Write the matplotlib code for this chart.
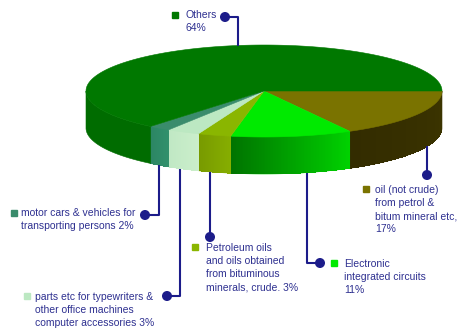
import numpy as np
import matplotlib.pyplot as plt
from matplotlib.patches import Polygon, Rectangle, Circle
from matplotlib.colors import to_rgb

# share of each product group, clockwise from 3 o'clock
labels = [
    "oil (not crude)\nfrom petrol &\nbitum mineral etc,\n17%",
    "Electronic\nintegrated circuits\n11%",
    "Petroleum oils\nand oils obtained\nfrom bituminous\nminerals, crude. 3%",
    "parts etc for typewriters &\nother office machines\ncomputer accessories 3%",
    "motor cars & vehicles for\ntransporting persons 2%",
    "Others\n64%",
]
shares = [17, 11, 3, 3, 2, 64]

top_colors = ["#7a7300", "#00ea00", "#8ab600", "#bce8c2", "#3a8c6c", "#007800"]
side_colors = [("#3c3500", "#332c00"), ("#00d200", "#007400"), ("#86ae00", "#789a00"),
               ("#cbeecb", "#c0e8c4"), ("#31906c", "#2c8664"), ("#006c00", "#006c00")]

# ellipse geometry in pixel units
cx, cy, a, b, depth = 264, 91, 178, 46, 37
navy = "#1c1c8a"
text_col = "#2e3090"


def rim(t):
    return cx + a * np.cos(t), cy - b * np.sin(t)


def bottom_y(x):
    return cy + b * np.sqrt(1 - ((x - cx) / a) ** 2) + depth


fig = plt.figure(figsize=(4.59, 3.35), dpi=100)
ax = fig.add_axes([0, 0, 1, 1])
ax.set_xlim(0, 459)
ax.set_ylim(335, 0)
ax.axis("off")

# slice angles (parametric), going clockwise
bounds = -np.radians(np.concatenate([[0], np.cumsum(shares)]) * 3.6)

# side walls, only the front half is visible
for i in range(len(shares)):
    t1, t2 = bounds[i], bounds[i + 1]
    lo, hi = max(t2, -np.pi), min(t1, 0)
    if lo >= hi:
        continue
    ts = np.linspace(hi, lo, 80)
    xs, ys = rim(ts)
    outline = list(zip(xs, ys)) + list(zip(xs[::-1], ys[::-1] + depth))
    c1, c2 = np.array(to_rgb(side_colors[i][0])), np.array(to_rgb(side_colors[i][1]))
    ax.add_patch(Polygon(outline, closed=True, facecolor=c1, edgecolor=c1, lw=0.4))
    if np.allclose(c1, c2):
        continue
    # shade across the wall in thin strips
    for k in range(len(ts) - 1):
        f = k / (len(ts) - 2)
        col = c1 * (1 - f) + c2 * f
        ax.add_patch(Polygon([(xs[k], ys[k]), (xs[k + 1], ys[k + 1]),
                              (xs[k + 1], ys[k + 1] + depth), (xs[k], ys[k] + depth)],
                             closed=True, facecolor=col, edgecolor="none",
                             antialiased=False))

# top face
for i in range(len(shares)):
    ts = np.linspace(bounds[i], bounds[i + 1], 200)
    xs, ys = rim(ts)
    pts = [(cx, cy)] + list(zip(xs, ys))
    ax.add_patch(Polygon(pts, closed=True, facecolor=top_colors[i],
                         edgecolor=top_colors[i], lw=0.4))

# leader lines: anchor point, bends and the dot at the end
leaders = [
    [(427, None), (427, 175)],
    [(307, None), (307, 263), (320, 263)],
    [(210, None), (210, 237)],
    [(180, None), (180, 296), (167, 296)],
    [(159, None), (159, 215), (145, 215)],
    [(238, 46), (238, 17), (225, 17)],
]
for path in leaders:
    x0, y0 = path[0]
    if y0 is None:
        y0 = bottom_y(x0)
    pts = [(x0, y0)] + path[1:]
    ax.plot([p[0] for p in pts], [p[1] for p in pts], color=navy, lw=1.5,
            solid_capstyle="butt", zorder=3)
    ax.add_patch(Circle(pts[-1], 4.3, color=navy, zorder=4))

# label text with a colour square
label_pos = [(375, 191, 366, 189), (344, 265, 334, 263), (206, 249, 195, 247),
             (35, 298, 27, 296), (21, 214, 14, 213), (185, 16, 175, 15)]
for i, (tx, ty, sx, sy) in enumerate(label_pos):
    ax.add_patch(Rectangle((sx - 3, sy - 3), 6, 6, color=top_colors[i], zorder=3))
    ax.text(tx, ty - 6, labels[i], fontsize=7.5, family="Liberation Sans",
            color=text_col, va="top", ha="left", linespacing=1.38)

fig.savefig("out.png", dpi=100)
